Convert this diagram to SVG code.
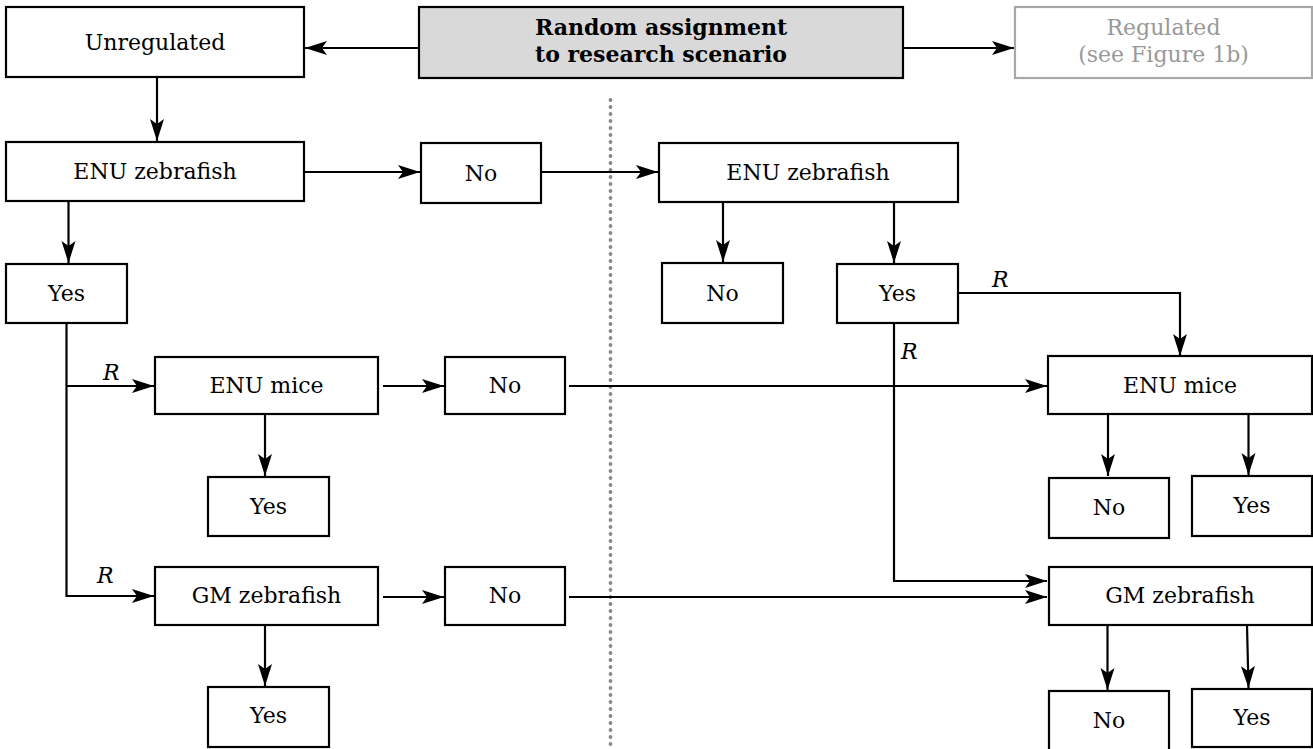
<svg xmlns="http://www.w3.org/2000/svg" width="1313" height="749" viewBox="0 0 1313 749">
<style>
.box{fill:#fff;stroke:#000;stroke-width:2.2}
.gbox{fill:#d9d9d9;stroke:#000;stroke-width:2.2}
.rbox{fill:#fff;stroke:#a8a8a8;stroke-width:2.2}
.t{font-family:"DejaVu Serif","Liberation Serif",serif;font-size:22px;text-anchor:middle;fill:#000}
.b{font-weight:bold}
.g{fill:#999}
.r{font-family:"DejaVu Serif","Liberation Serif",serif;font-size:22px;font-style:italic;fill:#000}
.c{fill:none;stroke:#000;stroke-width:2.2}
.a{marker-end:url(#ah)}
</style>
<defs>
<marker id="ah" viewBox="-23 -8 24 16" refX="0" refY="0" markerWidth="24" markerHeight="16" orient="auto" markerUnits="userSpaceOnUse">
<path d="M0,0 L-22,-7 L-17,0 L-22,7 Z" fill="#000"/>
</marker>
</defs>
<rect width="1313" height="749" fill="#fff"/>
<line x1="610.5" y1="100" x2="610.5" y2="749" stroke="#888" stroke-width="3.8" stroke-linecap="round" stroke-dasharray="0 7"/>

<g id="connectors">
<line class="c a" x1="419" y1="48" x2="305" y2="48"/>
<line class="c a" x1="903" y1="48" x2="1014" y2="48"/>
<line class="c a" x1="157" y1="77" x2="157" y2="141"/>
<line class="c a" x1="305" y1="172" x2="420" y2="172"/>
<line class="c a" x1="542" y1="172" x2="658" y2="172"/>
<line class="c a" x1="68.5" y1="201" x2="68.5" y2="263"/>
<path class="c" d="M66.5,323 V597"/>
<line class="c a" x1="66.5" y1="386" x2="154" y2="386"/>
<line class="c a" x1="66.5" y1="596" x2="154" y2="596"/>
<line class="c a" x1="383" y1="386" x2="444" y2="386"/>
<line class="c a" x1="569" y1="386" x2="1047" y2="386"/>
<line class="c a" x1="265" y1="414" x2="265" y2="476"/>
<line class="c a" x1="383" y1="597" x2="444" y2="597"/>
<line class="c a" x1="569" y1="597" x2="1047" y2="597"/>
<line class="c a" x1="265" y1="625" x2="265" y2="686"/>
<line class="c a" x1="723" y1="202" x2="723" y2="262"/>
<line class="c a" x1="894" y1="202" x2="894" y2="263"/>
<path class="c a" d="M958,293 H1180 V356"/>
<path class="c a" d="M894,323 V581 H1047"/>
<line class="c a" x1="1108" y1="414" x2="1108" y2="476"/>
<line class="c a" x1="1248.5" y1="414" x2="1248.5" y2="475"/>
<line class="c a" x1="1107.5" y1="625" x2="1107.5" y2="690"/>
<line class="c a" x1="1247" y1="625" x2="1248.5" y2="688"/>
<text class="r" x="103" y="380">R</text>
<text class="r" x="97" y="583">R</text>
<text class="r" x="992" y="287">R</text>
<text class="r" x="901" y="359">R</text>
</g>

<g id="random"><rect class="gbox" x="419" y="7" width="484" height="71"/><text class="t b" x="661" y="35">Random assignment</text><text class="t b" x="661" y="62">to research scenario</text></g>
<g id="unregulated"><rect class="box" x="6" y="7" width="298" height="70"/><text class="t" x="155" y="50">Unregulated</text></g>
<g id="regulated"><rect class="rbox" x="1015" y="7" width="297" height="71"/><text class="t g" x="1163.5" y="35">Regulated</text><text class="t g" x="1163.5" y="62">(see Figure 1b)</text></g>

<g id="enu-zf-l"><rect class="box" x="6" y="142" width="298" height="59"/><text class="t" x="155" y="179">ENU zebrafish</text></g>
<g id="no-1"><rect class="box" x="421" y="143" width="120" height="60"/><text class="t" x="481" y="181">No</text></g>
<g id="enu-zf-r"><rect class="box" x="659" y="143" width="299" height="59"/><text class="t" x="808" y="180">ENU zebrafish</text></g>

<g id="yes-l"><rect class="box" x="6" y="264" width="121" height="59"/><text class="t" x="66.5" y="301">Yes</text></g>
<g id="no-r2"><rect class="box" x="662" y="263" width="121" height="60"/><text class="t" x="722.5" y="301">No</text></g>
<g id="yes-r2"><rect class="box" x="837" y="264" width="121" height="59"/><text class="t" x="897.5" y="301">Yes</text></g>

<g id="enu-mice-l"><rect class="box" x="155" y="357" width="223" height="57"/><text class="t" x="266.5" y="393">ENU mice</text></g>
<g id="no-3"><rect class="box" x="445" y="357" width="120" height="57"/><text class="t" x="505" y="393">No</text></g>
<g id="enu-mice-r"><rect class="box" x="1048" y="356" width="264" height="58"/><text class="t" x="1180" y="393">ENU mice</text></g>

<g id="yes-4"><rect class="box" x="208" y="477" width="121" height="59"/><text class="t" x="268.5" y="514">Yes</text></g>
<g id="no-r4"><rect class="box" x="1049" y="478" width="120" height="60"/><text class="t" x="1109" y="515">No</text></g>
<g id="yes-r4"><rect class="box" x="1192" y="476" width="120" height="60"/><text class="t" x="1252" y="513">Yes</text></g>

<g id="gm-zf-l"><rect class="box" x="155" y="567" width="223" height="58"/><text class="t" x="266.5" y="603">GM zebrafish</text></g>
<g id="no-5"><rect class="box" x="445" y="567" width="120" height="58"/><text class="t" x="505" y="603">No</text></g>
<g id="gm-zf-r"><rect class="box" x="1049" y="567" width="263" height="58"/><text class="t" x="1180" y="603">GM zebrafish</text></g>

<g id="yes-6"><rect class="box" x="208" y="687" width="121" height="60"/><text class="t" x="268.5" y="723">Yes</text></g>
<g id="no-r6"><rect class="box" x="1049" y="691" width="120" height="62"/><text class="t" x="1109" y="728">No</text></g>
<g id="yes-r6"><rect class="box" x="1192" y="689" width="120" height="58"/><text class="t" x="1252" y="725">Yes</text></g>
</svg>
